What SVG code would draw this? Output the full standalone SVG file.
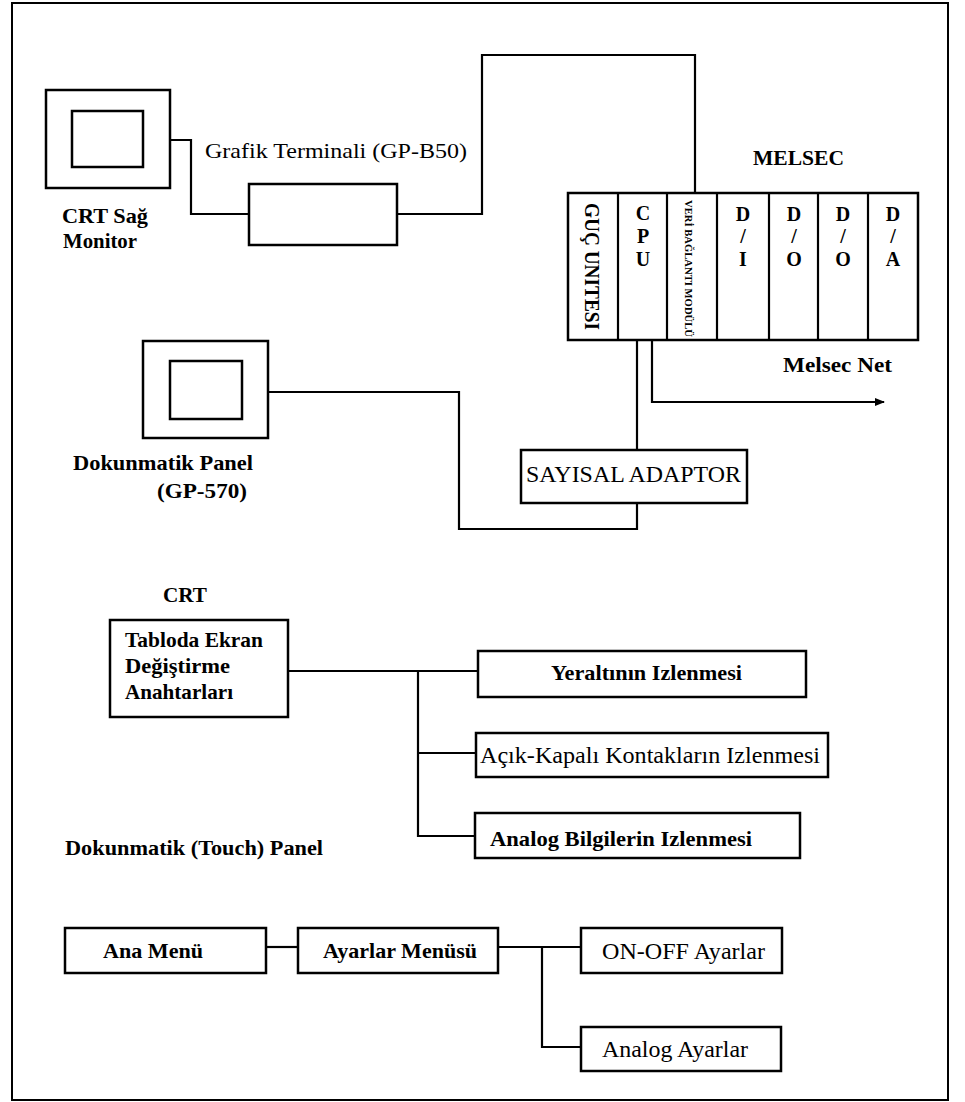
<svg xmlns="http://www.w3.org/2000/svg" width="965" height="1102" viewBox="0 0 965 1102">
<style>
.box{fill:#fff;stroke:#000;stroke-width:2.5}
.w{fill:none;stroke:#000;stroke-width:2.2}
.b{font-weight:bold}
.r{font-weight:normal}
.c{text-anchor:middle}
</style>
<defs>
<marker id="arr" markerWidth="10" markerHeight="8" refX="9" refY="4" orient="auto" markerUnits="userSpaceOnUse">
<path d="M0,0 L10,4 L0,8 Z" fill="#000"/>
</marker>
</defs>
<rect x="0" y="0" width="965" height="1102" fill="#fff"/>
<rect x="12" y="3" width="936" height="1097" fill="none" stroke="#000" stroke-width="2"/>

<g id="connectors">
<polyline class="w" points="170,140 191,140 191,214 249,214"/>
<polyline class="w" points="397,214 482,214 482,55 695,55 695,193"/>
<polyline class="w" points="268,392 459,392 459,529 637,529 637,503"/>
<polyline class="w" points="637,340 637,450"/>
<polyline class="w" points="652,340 652,402 884,402" marker-end="url(#arr)"/>
<polyline class="w" points="288,671 478,671"/>
<polyline class="w" points="418,671 418,836 475,836"/>
<polyline class="w" points="418,753 476,753"/>
<polyline class="w" points="266,947 298,947"/>
<polyline class="w" points="498,947 581,947"/>
<polyline class="w" points="542,947 542,1047 581,1047"/>
</g>

<g font-family="Liberation Serif, Times New Roman, serif" fill="#000">
<g id="crt-monitor">
<rect class="box" x="46" y="90" width="124" height="98"/>
<rect class="box" x="72" y="111" width="71" height="56"/>
<text class="b" x="62" y="223" font-size="22" textLength="86" lengthAdjust="spacingAndGlyphs">CRT Sağ</text>
<text class="b" x="63" y="248" font-size="22" textLength="74" lengthAdjust="spacingAndGlyphs">Monitor</text>
</g>

<g id="graphic-terminal">
<rect class="box" x="249" y="184" width="148" height="61"/>
<text class="r" x="205" y="158" font-size="22" textLength="262" lengthAdjust="spacingAndGlyphs">Grafik Terminali (GP-B50)</text>
</g>

<g id="melsec">
<text class="b" x="753" y="165" font-size="22" textLength="91" lengthAdjust="spacingAndGlyphs">MELSEC</text>
<rect class="box" x="568" y="193" width="350" height="147"/>
<line class="w" x1="618" y1="193" x2="618" y2="340"/>
<line class="w" x1="667" y1="193" x2="667" y2="340"/>
<line class="w" x1="717" y1="193" x2="717" y2="340"/>
<line class="w" x1="769" y1="193" x2="769" y2="340"/>
<line class="w" x1="818" y1="193" x2="818" y2="340"/>
<line class="w" x1="868" y1="193" x2="868" y2="340"/>
<text class="b" transform="translate(585,203) rotate(90)" font-size="21" textLength="127" lengthAdjust="spacingAndGlyphs">GUÇ UNITESI</text>
<g font-size="20">
<text class="b c" x="643" y="220">C</text>
<text class="b c" x="643" y="243">P</text>
<text class="b c" x="643" y="266">U</text>
<text class="b c" x="743" y="221">D</text>
<text class="b c" x="743" y="243">/</text>
<text class="b c" x="743" y="266">I</text>
<text class="b c" x="794" y="221">D</text>
<text class="b c" x="794" y="243">/</text>
<text class="b c" x="794" y="266">O</text>
<text class="b c" x="843" y="221">D</text>
<text class="b c" x="843" y="243">/</text>
<text class="b c" x="843" y="266">O</text>
<text class="b c" x="893" y="221">D</text>
<text class="b c" x="893" y="243">/</text>
<text class="b c" x="893" y="266">A</text>
</g>
<text class="b" transform="translate(685,200) rotate(90)" font-size="11" textLength="137" lengthAdjust="spacingAndGlyphs">VERİ BAĞLANTI MODÜLÜ</text>
<text class="b" x="783" y="372" font-size="22" textLength="109" lengthAdjust="spacingAndGlyphs">Melsec Net</text>
</g>

<g id="touch-panel">
<rect class="box" x="143" y="341" width="125" height="97"/>
<rect class="box" x="170" y="361" width="72" height="58"/>
<text class="b" x="73" y="470" font-size="22" textLength="180" lengthAdjust="spacingAndGlyphs">Dokunmatik Panel</text>
<text class="b" x="157" y="498" font-size="22" textLength="90" lengthAdjust="spacingAndGlyphs">(GP-570)</text>
</g>

<g id="adaptor">
<rect class="box" x="521" y="450" width="226" height="53"/>
<text class="r" x="526" y="482" font-size="23" textLength="215" lengthAdjust="spacingAndGlyphs">SAYISAL ADAPTOR</text>
</g>

<g id="crt-title">
<text class="b" x="163" y="602" font-size="22" textLength="44" lengthAdjust="spacingAndGlyphs">CRT</text>
</g>

<g id="switches">
<rect class="box" x="110" y="620" width="178" height="97"/>
<text class="b" x="125" y="647" font-size="21" textLength="138" lengthAdjust="spacingAndGlyphs">Tabloda Ekran</text>
<text class="b" x="125" y="673" font-size="21" textLength="105" lengthAdjust="spacingAndGlyphs">Değiştirme</text>
<text class="b" x="125" y="699" font-size="21" textLength="108" lengthAdjust="spacingAndGlyphs">Anahtarları</text>
</g>

<g id="yeralti">
<rect class="box" x="478" y="651" width="328" height="46"/>
<text class="b" x="551" y="680" font-size="21" textLength="191" lengthAdjust="spacingAndGlyphs">Yeraltının Izlenmesi</text>
</g>

<g id="kontak">
<rect class="box" x="476" y="733" width="352" height="44"/>
<text class="r" x="480" y="763" font-size="23" textLength="340" lengthAdjust="spacingAndGlyphs">Açık-Kapalı Kontakların Izlenmesi</text>
</g>

<g id="analog-bilgi">
<rect class="box" x="475" y="813" width="325" height="45"/>
<text class="b" x="490" y="846" font-size="21" textLength="262" lengthAdjust="spacingAndGlyphs">Analog Bilgilerin Izlenmesi</text>
</g>

<g id="touch-title">
<text class="b" x="65" y="855" font-size="22" textLength="258" lengthAdjust="spacingAndGlyphs">Dokunmatik (Touch) Panel</text>
</g>

<g id="ana-menu">
<rect class="box" x="65" y="928" width="201" height="45"/>
<text class="b" x="103" y="958" font-size="22" textLength="100" lengthAdjust="spacingAndGlyphs">Ana Menü</text>
</g>

<g id="ayarlar-menu">
<rect class="box" x="298" y="928" width="200" height="45"/>
<text class="b" x="323" y="958" font-size="22" textLength="154" lengthAdjust="spacingAndGlyphs">Ayarlar Menüsü</text>
</g>

<g id="onoff">
<rect class="box" x="581" y="928" width="201" height="45"/>
<text class="r" x="602" y="959" font-size="23" textLength="163" lengthAdjust="spacingAndGlyphs">ON-OFF Ayarlar</text>
</g>

<g id="analog-ayar">
<rect class="box" x="581" y="1027" width="200" height="44"/>
<text class="r" x="602" y="1057" font-size="23" textLength="146" lengthAdjust="spacingAndGlyphs">Analog Ayarlar</text>
</g>
</g>
</svg>
